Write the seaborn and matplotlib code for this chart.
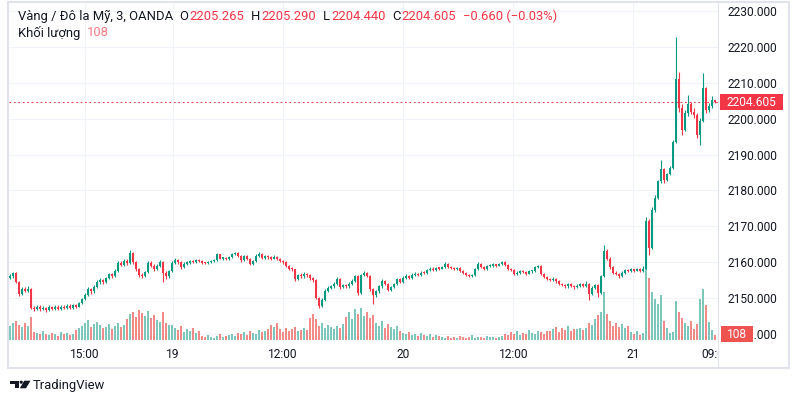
import numpy as np
import pandas as pd
import matplotlib
matplotlib.use("Agg")
import matplotlib.pyplot as plt
import seaborn as sns
from matplotlib.patches import Rectangle, Polygon, Circle
from matplotlib.lines import Line2D
from matplotlib.transforms import IdentityTransform, Bbox, blended_transform_factory

# ---------------- data (3-minute bars) ----------------
first_open = 2155.6
closes = [
    2156.0, 2157.0, 2154.5, 2151.2, 2152.6, 2152.0, 2152.6, 2147.3, 2147.0, 2147.6,
    2146.8, 2147.3, 2146.6, 2147.4, 2147.0, 2147.6, 2146.9, 2147.5, 2147.2, 2147.8,
    2147.3, 2148.0, 2147.6, 2148.6, 2149.6, 2150.8, 2152.5, 2151.8, 2153.0, 2154.5,
    2155.0, 2154.5, 2155.5, 2156.6, 2156.0, 2157.5, 2159.8, 2159.2, 2160.2, 2159.8,
    2162.5, 2160.0, 2158.0, 2156.5, 2156.0, 2157.2, 2159.8, 2159.0, 2158.0, 2159.0,
    2160.0, 2157.0, 2156.0, 2157.5, 2159.8, 2160.6, 2160.0, 2158.5, 2159.6, 2159.8,
    2160.2, 2160.0, 2160.6, 2160.4, 2159.8, 2159.7, 2159.9, 2160.3, 2160.6, 2162.2,
    2161.0, 2161.2, 2160.9, 2161.3, 2162.2, 2162.5, 2161.8, 2160.5, 2161.6, 2161.0,
    2159.5, 2160.2, 2161.8, 2162.4, 2161.2, 2161.6, 2161.3, 2161.0, 2161.5, 2161.0,
    2160.3, 2160.0, 2158.8, 2158.2, 2158.0, 2155.3, 2156.4, 2156.0, 2156.8, 2156.3,
    2155.5, 2155.0, 2150.0, 2147.8, 2149.5, 2152.0, 2152.8, 2153.2, 2154.0, 2155.2,
    2153.0, 2153.6, 2153.2, 2154.0, 2154.8, 2156.0, 2151.5, 2156.4, 2157.0, 2156.2,
    2152.5, 2150.8, 2151.8, 2153.2, 2154.8, 2154.0, 2152.2, 2153.0, 2153.8, 2155.2,
    2154.5, 2155.6, 2156.2, 2155.6, 2156.5, 2156.8, 2156.4, 2157.1, 2157.0, 2157.8,
    2158.2, 2157.8, 2158.4, 2158.2, 2158.5, 2159.5, 2158.6, 2158.4, 2158.0, 2158.3,
    2157.5, 2157.0, 2156.4, 2156.0, 2156.3, 2158.0, 2159.5, 2158.6, 2158.2, 2158.8,
    2159.0, 2159.4, 2159.0, 2159.4, 2160.0, 2159.2, 2158.0, 2157.8, 2156.6, 2157.0,
    2157.6, 2157.2, 2156.8, 2157.4, 2157.5, 2158.6, 2159.0, 2156.8, 2155.8, 2155.4,
    2155.0, 2155.4, 2154.6, 2154.0, 2153.6, 2153.2, 2153.8, 2153.4, 2153.0, 2153.4,
    2153.8, 2153.4, 2154.0, 2151.0, 2152.8, 2153.6, 2151.5, 2156.0, 2163.2, 2161.0,
    2158.5, 2157.0, 2156.8, 2156.0, 2157.0, 2157.8, 2157.5, 2158.0, 2157.6, 2158.0,
    2157.6, 2158.2, 2171.5, 2164.0, 2174.5, 2178.0, 2182.5, 2186.0, 2183.0, 2184.5,
    2186.2, 2193.5, 2211.0, 2203.0, 2197.0, 2201.5, 2204.0, 2202.0, 2201.0, 2195.5,
    2199.5, 2208.5, 2202.5, 2203.5, 2205.265, 2204.605,
]
highs = [
    2156.6, 2157.3, 2157.2, 2154.8, 2153.0, 2153.1, 2153.2, 2152.9, 2147.8, 2148.1,
    2147.9, 2147.7, 2147.6, 2147.9, 2147.8, 2148.0, 2147.9, 2147.9, 2147.9, 2148.3,
    2148.2, 2148.4, 2148.3, 2149.0, 2150.1, 2151.3, 2153.0, 2152.9, 2153.5, 2155.0,
    2155.6, 2155.4, 2155.9, 2157.0, 2156.9, 2158.0, 2160.3, 2160.4, 2160.8, 2160.9,
    2163.3, 2162.8, 2160.3, 2158.3, 2157.0, 2157.6, 2160.3, 2160.2, 2159.4, 2159.5,
    2160.5, 2160.2, 2157.4, 2157.9, 2160.2, 2161.1, 2160.9, 2160.3, 2160.0, 2160.3,
    2160.6, 2160.5, 2161.0, 2160.9, 2160.6, 2160.1, 2160.2, 2160.6, 2160.9, 2162.6,
    2162.4, 2161.5, 2161.4, 2161.6, 2162.6, 2162.9, 2162.7, 2162.0, 2162.0, 2161.9,
    2161.2, 2160.6, 2162.2, 2162.9, 2162.6, 2162.0, 2161.9, 2161.6, 2162.0, 2161.8,
    2161.2, 2160.6, 2160.2, 2159.1, 2158.5, 2158.2, 2156.8, 2156.9, 2157.2, 2157.1,
    2156.6, 2155.9, 2155.3, 2150.4, 2149.9, 2152.4, 2153.2, 2153.7, 2154.4, 2155.9,
    2155.5, 2154.0, 2153.9, 2154.4, 2155.2, 2156.4, 2156.3, 2156.8, 2157.4, 2157.3,
    2156.5, 2152.8, 2152.2, 2153.6, 2155.2, 2155.1, 2154.3, 2153.4, 2154.2, 2155.6,
    2155.5, 2156.0, 2156.6, 2156.5, 2156.9, 2157.2, 2157.1, 2157.5, 2157.4, 2158.2,
    2158.6, 2158.5, 2158.7, 2158.6, 2158.8, 2159.9, 2159.7, 2158.9, 2158.7, 2158.6,
    2158.5, 2157.8, 2157.2, 2156.6, 2156.6, 2158.3, 2159.9, 2159.7, 2158.9, 2159.1,
    2159.4, 2159.7, 2159.6, 2159.7, 2160.3, 2160.2, 2159.4, 2158.3, 2158.0, 2157.4,
    2157.9, 2157.8, 2157.4, 2157.7, 2157.9, 2158.9, 2159.3, 2159.2, 2157.0, 2156.1,
    2155.7, 2155.8, 2155.6, 2154.9, 2154.3, 2153.9, 2154.2, 2154.1, 2153.7, 2153.8,
    2154.2, 2154.1, 2154.6, 2154.2, 2153.2, 2154.0, 2153.8, 2156.5, 2164.8, 2163.6,
    2161.3, 2158.8, 2157.4, 2157.1, 2157.4, 2158.2, 2158.1, 2158.3, 2158.2, 2158.4,
    2158.3, 2159.0, 2172.6, 2172.0, 2175.3, 2178.6, 2183.0, 2188.5, 2186.4, 2185.0,
    2186.8, 2194.0, 2222.8, 2213.0, 2204.0, 2202.4, 2206.6, 2204.6, 2203.0, 2201.5,
    2200.2, 2212.8, 2209.0, 2204.4, 2206.3, 2205.29,
]
lows = [
    2155.2, 2155.7, 2154.2, 2150.6, 2150.9, 2151.6, 2151.7, 2146.9, 2146.4, 2146.6,
    2146.3, 2146.5, 2146.2, 2146.4, 2146.6, 2146.7, 2146.5, 2146.6, 2146.8, 2146.9,
    2146.9, 2147.0, 2147.2, 2147.4, 2148.3, 2149.3, 2150.5, 2151.2, 2151.5, 2152.7,
    2154.0, 2154.0, 2154.2, 2155.2, 2155.5, 2155.8, 2157.2, 2158.8, 2158.9, 2159.3,
    2159.5, 2159.6, 2157.5, 2155.9, 2155.6, 2155.8, 2157.0, 2158.6, 2157.4, 2157.7,
    2158.7, 2154.4, 2155.3, 2155.7, 2157.2, 2159.5, 2159.6, 2158.1, 2158.3, 2159.2,
    2159.5, 2159.7, 2159.8, 2160.0, 2159.5, 2159.4, 2159.4, 2159.7, 2160.0, 2160.4,
    2160.8, 2160.7, 2160.6, 2160.7, 2161.1, 2161.9, 2161.4, 2160.1, 2160.3, 2160.6,
    2159.1, 2159.2, 2160.0, 2161.5, 2160.9, 2160.9, 2161.0, 2160.6, 2160.8, 2160.7,
    2160.0, 2159.6, 2158.5, 2157.8, 2157.5, 2154.8, 2155.0, 2155.6, 2155.7, 2155.9,
    2155.1, 2154.5, 2149.6, 2147.2, 2147.5, 2149.2, 2151.7, 2152.4, 2152.9, 2153.7,
    2152.6, 2152.7, 2152.8, 2152.9, 2153.7, 2154.5, 2150.8, 2151.2, 2156.0, 2155.8,
    2152.0, 2148.3, 2150.4, 2151.5, 2152.9, 2153.6, 2151.8, 2151.9, 2152.7, 2153.5,
    2154.1, 2154.2, 2155.3, 2155.2, 2155.3, 2156.2, 2156.0, 2156.2, 2156.7, 2156.8,
    2157.5, 2157.5, 2157.6, 2157.9, 2158.0, 2158.3, 2158.3, 2158.1, 2157.7, 2157.7,
    2157.2, 2156.7, 2156.1, 2155.8, 2155.8, 2156.1, 2157.8, 2158.3, 2157.9, 2157.9,
    2158.5, 2158.7, 2158.7, 2158.8, 2159.2, 2158.9, 2157.7, 2157.4, 2156.3, 2156.3,
    2156.8, 2156.9, 2156.5, 2156.6, 2157.1, 2157.3, 2158.3, 2156.4, 2155.5, 2155.0,
    2154.6, 2154.7, 2154.2, 2153.6, 2153.2, 2152.8, 2152.9, 2153.0, 2152.6, 2152.7,
    2153.1, 2153.0, 2153.1, 2149.4, 2150.7, 2152.5, 2150.3, 2151.2, 2155.8, 2160.6,
    2158.1, 2156.6, 2156.4, 2155.6, 2155.8, 2156.8, 2157.2, 2157.2, 2157.3, 2157.4,
    2157.2, 2157.3, 2158.0, 2162.0, 2163.6, 2174.0, 2177.6, 2182.2, 2182.0, 2182.6,
    2184.2, 2186.0, 2193.2, 2202.0, 2195.5, 2196.6, 2200.8, 2201.2, 2200.2, 2194.6,
    2192.7, 2199.2, 2201.6, 2202.0, 2203.1, 2204.44,
]
volumes = [
    300, 380, 420, 330, 280, 360, 300, 500,
    180, 150, 120, 200, 140, 100, 160, 130, 90, 170, 120, 150, 110, 140,
    220, 260, 300, 380, 430, 280, 350, 400, 320, 260,
    280, 340, 250, 300, 370, 290, 330,
    450, 560, 620, 500, 660, 580, 520, 640, 480, 550, 430,
    400, 600, 380, 330,
    320, 260, 220, 300, 180, 240, 200, 260, 150, 190,
    80, 60, 110, 70, 50, 90, 130, 60, 80, 100,
    120, 90, 160, 140, 180, 110, 200, 150, 130, 220, 170, 190, 240,
    320, 280, 380,
    230, 180, 260, 200, 240, 280, 190, 220, 260, 210,
    480, 560, 450,
    300, 360, 260, 330, 280, 240, 310, 270, 350,
    500, 620, 450, 680, 560, 700, 520, 600, 480, 550,
    380, 300, 420, 260, 340, 280, 230, 300,
    200, 150, 120, 180, 100, 140, 90, 160, 110, 80, 130, 70, 100, 90,
    60, 40, 80, 50, 70, 45, 90, 55, 40, 65, 110, 50, 75, 60, 45, 85, 55, 70, 40, 60,
    90, 140, 110, 180, 130, 200, 100, 160, 120, 210, 150, 130, 190, 170, 120, 200,
    200, 240, 280, 180, 260, 220, 300, 190, 250, 230, 270, 210, 260,
    380, 320, 450, 550,
    600, 1050, 560,
    420, 300, 380, 280, 340, 260, 300,
    180, 120, 200, 100, 160,
    1620, 1350, 1050,
    900, 780, 980,
    420, 260, 150,
    180, 840, 620, 480, 380,
    300, 420, 250, 340,
    900, 1120, 760,
    400, 220, 108,
]
price_ticks = [2140, 2150, 2160, 2170, 2180, 2190, 2200, 2210, 2220, 2230]
time_tick_pos = [25.0, 54.33, 91.0, 131.0, 167.83, 207.67, 235.33]
time_tick_labels = ["15:00", "19", "12:00", "20", "12:00", "21", "09:00"]
title = "Vàng / Đô la Mỹ, 3, OANDA"
volume_label = "Khối lượng"

# ---------------- styling ----------------
UP, DN = "#089981", "#f23645"
VOL_UP, VOL_DN = "#7cc6bc", "#f28a88"
VOL_LABEL = "#ef5350"
TEXT = "#131722"
GRID = "#f0f3fa"
FRAME = "#e0e3eb"
W, H = 797, 404

sns.set_theme(style="white")
plt.rcParams["font.family"] = ["Roboto", "DejaVu Sans"]

opens = [first_open] + closes[:-1]
n = len(closes)
df = pd.DataFrame({"i": np.arange(n), "o": opens, "h": highs, "l": lows,
                   "c": closes, "v": volumes})
df["dir"] = np.where(df["c"] >= df["o"], "up", "down")

fig = plt.figure(figsize=(W / 100, H / 100), dpi=100)
fig.patch.set_facecolor("white")

L, R, T, B = 9, 718, 2, 343
axv = fig.add_axes([L / W, 1 - B / H, (R - L) / W, (B - T) / H])
ax = axv.twinx()
axv.set_zorder(0)
ax.set_zorder(1)
ax.patch.set_visible(False)
axv.set_facecolor("white")

# volume (seaborn)
sns.barplot(data=df, x="i", y="v", hue="dir",
            palette={"up": VOL_UP, "down": VOL_DN},
            native_scale=True, dodge=False, width=0.9, saturation=1,
            errorbar=None, legend=False, linewidth=0, ax=axv)
axv.set_xlabel("")
axv.set_ylabel("")

# candles
cols = np.where(df["dir"] == "up", UP, DN)
ax.vlines(df["i"], df["l"], df["h"], colors=cols, linewidth=0.8, zorder=2)
body = np.maximum((df["c"] - df["o"]).abs(), 0.3)
ax.bar(df["i"], body, bottom=np.minimum(df["o"], df["c"]), width=0.7,
       color=cols, linewidth=0, zorder=3)
ax.axhline(closes[-1], color=DN, lw=0.8, ls=(0, (1.5, 2.5)), zorder=1)

# limits
px_per_unit = 3.583
ax.set_ylim(2230 - (B - 11.3) / px_per_unit, 2230 + (11.3 - T) / px_per_unit)
k = 21.8
axv.set_ylim(-3 * k, (B - T - 3) * k)
axv.set_xlim(-1 / 3, 236)

# grid drawn on the lower (volume) axes so it stays behind the bars
gtr = blended_transform_factory(axv.transAxes, ax.transData)
for p in price_ticks:
    axv.plot([0, 1], [p, p], transform=gtr, color=GRID, lw=0.8, zorder=0)
for xp in time_tick_pos[:-1]:
    axv.axvline(xp, color=GRID, lw=0.8, zorder=0)

for a in (ax, axv):
    for s in a.spines.values():
        s.set_visible(False)
    a.grid(False)

# axis tick labels
ax.set_yticks(price_ticks, [f"{p:.3f}" for p in price_ticks])
ax.tick_params(axis="y", right=True, left=False, length=0, pad=7.2,
               labelsize=8.64, labelcolor=TEXT)
axv.tick_params(axis="y", left=False, labelleft=False)
axv.set_xticks(time_tick_pos, time_tick_labels)
axv.tick_params(axis="x", bottom=True, length=0, pad=3.8, labelsize=8.64,
                labelcolor=TEXT)
lab = axv.get_xticklabels()[-1]
lab.set_clip_on(True)
lab.set_clip_box(Bbox.from_extents(0, 0, R, H))

it = IdentityTransform()
# frame
fig.add_artist(Rectangle((8, H - 368), 781, 366, fill=False, ec=FRAME, lw=1.5,
                         transform=it, zorder=5))
fig.add_artist(Line2D([R, R], [H - 368, H - 2], color=FRAME, lw=0.8,
                      transform=it, zorder=5))

# last price label
yp = ax.transData.transform((0, closes[-1]))[1]
fig.add_artist(Rectangle((720, yp - 8), 63, 16, color=DN, lw=0,
                         transform=it, zorder=6))
fig.text(751.5, yp, f"{closes[-1]:.3f}", transform=it, zorder=7,
         ha="center", va="center", color="white", fontsize=8.64)

# last volume label
yv = axv.transData.transform((0, volumes[-1]))[1] + 1
fig.add_artist(Rectangle((721, yv - 8), 32, 16, color=VOL_LABEL, lw=0,
                         transform=it, zorder=6))
fig.text(737, yv, f"{volumes[-1]}", transform=it, zorder=7,
         ha="center", va="center", color="white", fontsize=8.64)

# legend header
renderer = fig.canvas.get_renderer()


def seq(pieces, x0, y, size):
    x = x0
    for txt, col, gap in pieces:
        t = fig.text(x, y, txt, transform=it, color=col, zorder=7,
                     fontsize=size, ha="left", va="center")
        x = t.get_window_extent(renderer).x1 + gap


chg = closes[-1] - closes[-2]
pct = chg / closes[-2] * 100
chg_txt = f"{chg:.3f} ({pct:.2f}%)".replace("-", "\u2212")
seq([(title, TEXT, 6), ("O", TEXT, 1), (f"{opens[-1]:.3f}", DN, 7),
     ("H", TEXT, 1), (f"{highs[-1]:.3f}", DN, 7),
     ("L", TEXT, 1), (f"{lows[-1]:.3f}", DN, 7),
     ("C", TEXT, 1), (f"{closes[-1]:.3f}", DN, 7),
     (chg_txt, DN, 0)], 18, H - 16, 9.36)
seq([(volume_label, TEXT, 7), (f"{volumes[-1]}", "#f57b83", 0)], 18, H - 33, 9.36)

# TradingView logo
fig.add_artist(Rectangle((10, H - 383.5), 8.5, 2.8, color=TEXT, lw=0, transform=it))
fig.add_artist(Rectangle((14.6, H - 388.3), 3.9, 7.6, color=TEXT, lw=0, transform=it))
fig.add_artist(Circle((21.2, H - 382.2), 1.6, color=TEXT, lw=0, transform=it))
fig.add_artist(Polygon([(24.2, H - 380.7), (30.5, H - 380.7), (26.0, H - 388.3),
                        (19.8, H - 388.3)], closed=True, color=TEXT, lw=0,
                       transform=it))
fig.text(33, H - 386, "TradingView", transform=it, ha="left", va="center",
         color=TEXT, fontsize=9.4)

fig.savefig("out.png", dpi=100, facecolor="white")
